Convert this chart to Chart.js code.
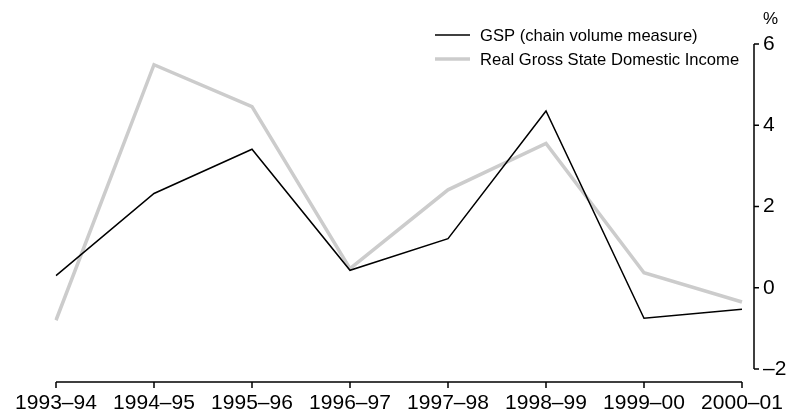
<!DOCTYPE html>
<html>
<head>
<meta charset="utf-8">
<script src="https://cdn.jsdelivr.net/npm/chart.js@4.4.0/dist/chart.umd.min.js"></script>
<style>
  html, body { margin: 0; padding: 0; background: #fff; }
  #wrap { width: 796px; height: 417px; }
</style>
</head>
<body>
<div id="wrap"><canvas id="gspChart" width="796" height="417"></canvas></div>
<script>
'use strict';

const years = ['1993–94', '1994–95', '1995–96', '1996–97', '1997–98', '1998–99', '1999–00', '2000–01'];
const gspValues = [0.3, 2.32, 3.41, 0.43, 1.21, 4.35, -0.75, -0.53];
const incomeValues = [-0.8, 5.49, 4.46, 0.47, 2.41, 3.55, 0.37, -0.35];
const yTicks = [-2, 0, 2, 4, 6];
const seriesNames = ['GSP (chain volume measure)', 'Real Gross State Domestic Income'];

const FONT = 'Liberation Sans, Arial, sans-serif';

// axes are drawn by hand: y axis sits a bit right of the plot, x axis a bit below it
const axesPlugin = {
    id: 'abs-axes',
    afterDraw(chart) {
        const ctx = chart.ctx;
        const x = chart.scales.x;
        const y = chart.scales.y;
        const area = chart.chartArea;

        ctx.save();
        ctx.strokeStyle = '#000';
        ctx.lineWidth = 1.5;

        // x axis
        const xAxisY = area.bottom + 13;
        ctx.beginPath();
        ctx.moveTo(x.getPixelForValue(0), xAxisY);
        ctx.lineTo(x.getPixelForValue(years.length - 1), xAxisY);
        years.forEach((yr, i) => {
            const px = x.getPixelForValue(i);
            ctx.moveTo(px, xAxisY);
            ctx.lineTo(px, xAxisY + 6);
        });
        ctx.stroke();

        // y axis
        const yAxisX = area.right + 12;
        ctx.beginPath();
        ctx.moveTo(yAxisX, y.getPixelForValue(6));
        ctx.lineTo(yAxisX, y.getPixelForValue(-2));
        yTicks.forEach(v => {
            const py = y.getPixelForValue(v);
            ctx.moveTo(yAxisX, py);
            ctx.lineTo(yAxisX + 5, py);
        });
        ctx.stroke();

        // unit
        ctx.fillStyle = '#000';
        ctx.font = '17px ' + FONT;
        ctx.textAlign = 'left';
        ctx.textBaseline = 'middle';
        ctx.fillText('%', 763, 19);

        // legend
        ctx.font = '16.6px ' + FONT;
        chart.data.datasets.forEach((ds, i) => {
            const ly = 35 + i * 24;
            ctx.beginPath();
            ctx.strokeStyle = ds.borderColor;
            ctx.lineWidth = ds.borderWidth;
            ctx.moveTo(435, ly);
            ctx.lineTo(470, ly);
            ctx.stroke();
            ctx.fillStyle = '#000';
            ctx.fillText(ds.label, 480, ly + 1);
        });
        ctx.restore();
    }
};

new Chart(document.getElementById('gspChart'), {
    type: 'line',
    data: {
        labels: years,
        datasets: [{
            label: seriesNames[0],
            data: gspValues,
            borderColor: '#000000',
            borderWidth: 1.5,
            pointRadius: 0,
            tension: 0
        }, {
            label: seriesNames[1],
            data: incomeValues,
            borderColor: '#cccccc',
            borderWidth: 3.5,
            pointRadius: 0,
            tension: 0
        }]
    },
    options: {
        responsive: false,
        animation: false,
        layout: { padding: { top: 44, left: 56, right: 0, bottom: 0 } },
        plugins: {
            legend: { display: false },
            tooltip: { enabled: false }
        },
        scales: {
            x: {
                offset: false,
                grid: { display: false, drawTicks: false },
                border: { display: false },
                ticks: {
                    padding: 22,
                    color: '#000',
                    maxRotation: 0,
                    autoSkip: false,
                    font: { family: FONT, size: 21 }
                },
                afterFit(scale) {
                    scale.height = 48;
                    scale.paddingLeft = 0;
                    scale.paddingRight = 0;
                }
            },
            y: {
                position: 'right',
                min: -2,
                max: 6,
                grid: { display: false, drawTicks: false },
                border: { display: false },
                afterBuildTicks(scale) { scale.ticks = yTicks.map(v => ({ value: v })); },
                ticks: {
                    padding: 21,
                    color: '#000',
                    font: { family: FONT, size: 21 },
                    callback: v => (v < 0 ? '–' + Math.abs(v) : String(v))
                },
                afterFit(scale) {
                    scale.width = 54;
                    scale.paddingTop = 0;
                    scale.paddingBottom = 0;
                }
            }
        }
    },
    plugins: [axesPlugin]
});
</script>
</body>
</html>
